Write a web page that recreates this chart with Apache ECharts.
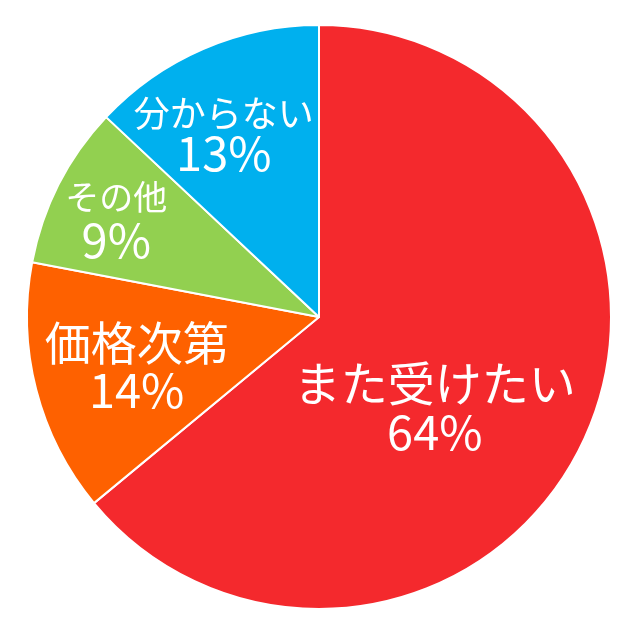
<!DOCTYPE html>
<html>
<head>
<meta charset="utf-8">
<script src="https://cdn.jsdelivr.net/npm/echarts@6/dist/echarts.min.js"></script>
<style>
    html, body { margin: 0; padding: 0; background: #fff; }
    #chart { width: 640px; height: 640px; }
</style>
</head>
<body>
<div id="chart"></div>
<script>
const categories = ['また受けたい', '価格次第', 'その他', '分からない'];
const values = [64, 14, 9, 13];
const colors = ['#f4292d', '#fe6100', '#92d050', '#00b0ee'];
// label name size per slice, and nudge from the default inside spot
const nameSizes = [47, 46, 34, 36];
const lineHeights = [49, 48, 43, 39];
const labelDx = [-19, -38, -70, -36];
const labelDy = [27, 12, -31, -47];

document.addEventListener('DOMContentLoaded', () => {
    const chart = echarts.init(document.getElementById('chart'));

    const rich = {};
    categories.forEach((c, i) => {
        rich['n' + i] = {fontSize: nameSizes[i], lineHeight: lineHeights[i], color: '#fff'};
        rich['v' + i] = {fontSize: 47, lineHeight: lineHeights[i], color: '#fff'};
    });

    chart.setOption({
        animation: false,
        textStyle: {fontFamily: '"Noto Sans CJK JP", "Noto Sans", sans-serif'},
        series: [{
            type: 'pie',
            center: [319, 317],
            radius: 292,
            startAngle: 90,
            clockwise: true,
            avoidLabelOverlap: false,
            itemStyle: {borderColor: '#fff', borderWidth: 2},
            label: {
                show: true,
                position: 'inside',
                color: '#fff',
                fontFamily: '"Noto Sans CJK JP", sans-serif',
                formatter: p => `{n${p.dataIndex}|${p.name}}\n{v${p.dataIndex}|${p.value}%}`,
                rich: rich
            },
            labelLine: {show: false},
            labelLayout: p => ({dx: labelDx[p.dataIndex], dy: labelDy[p.dataIndex]}),
            emphasis: {disabled: true},
            data: categories.map((c, i) => ({
                name: c,
                value: values[i],
                itemStyle: {color: colors[i]}
            }))
        }]
    });
});
</script>
</body>
</html>
